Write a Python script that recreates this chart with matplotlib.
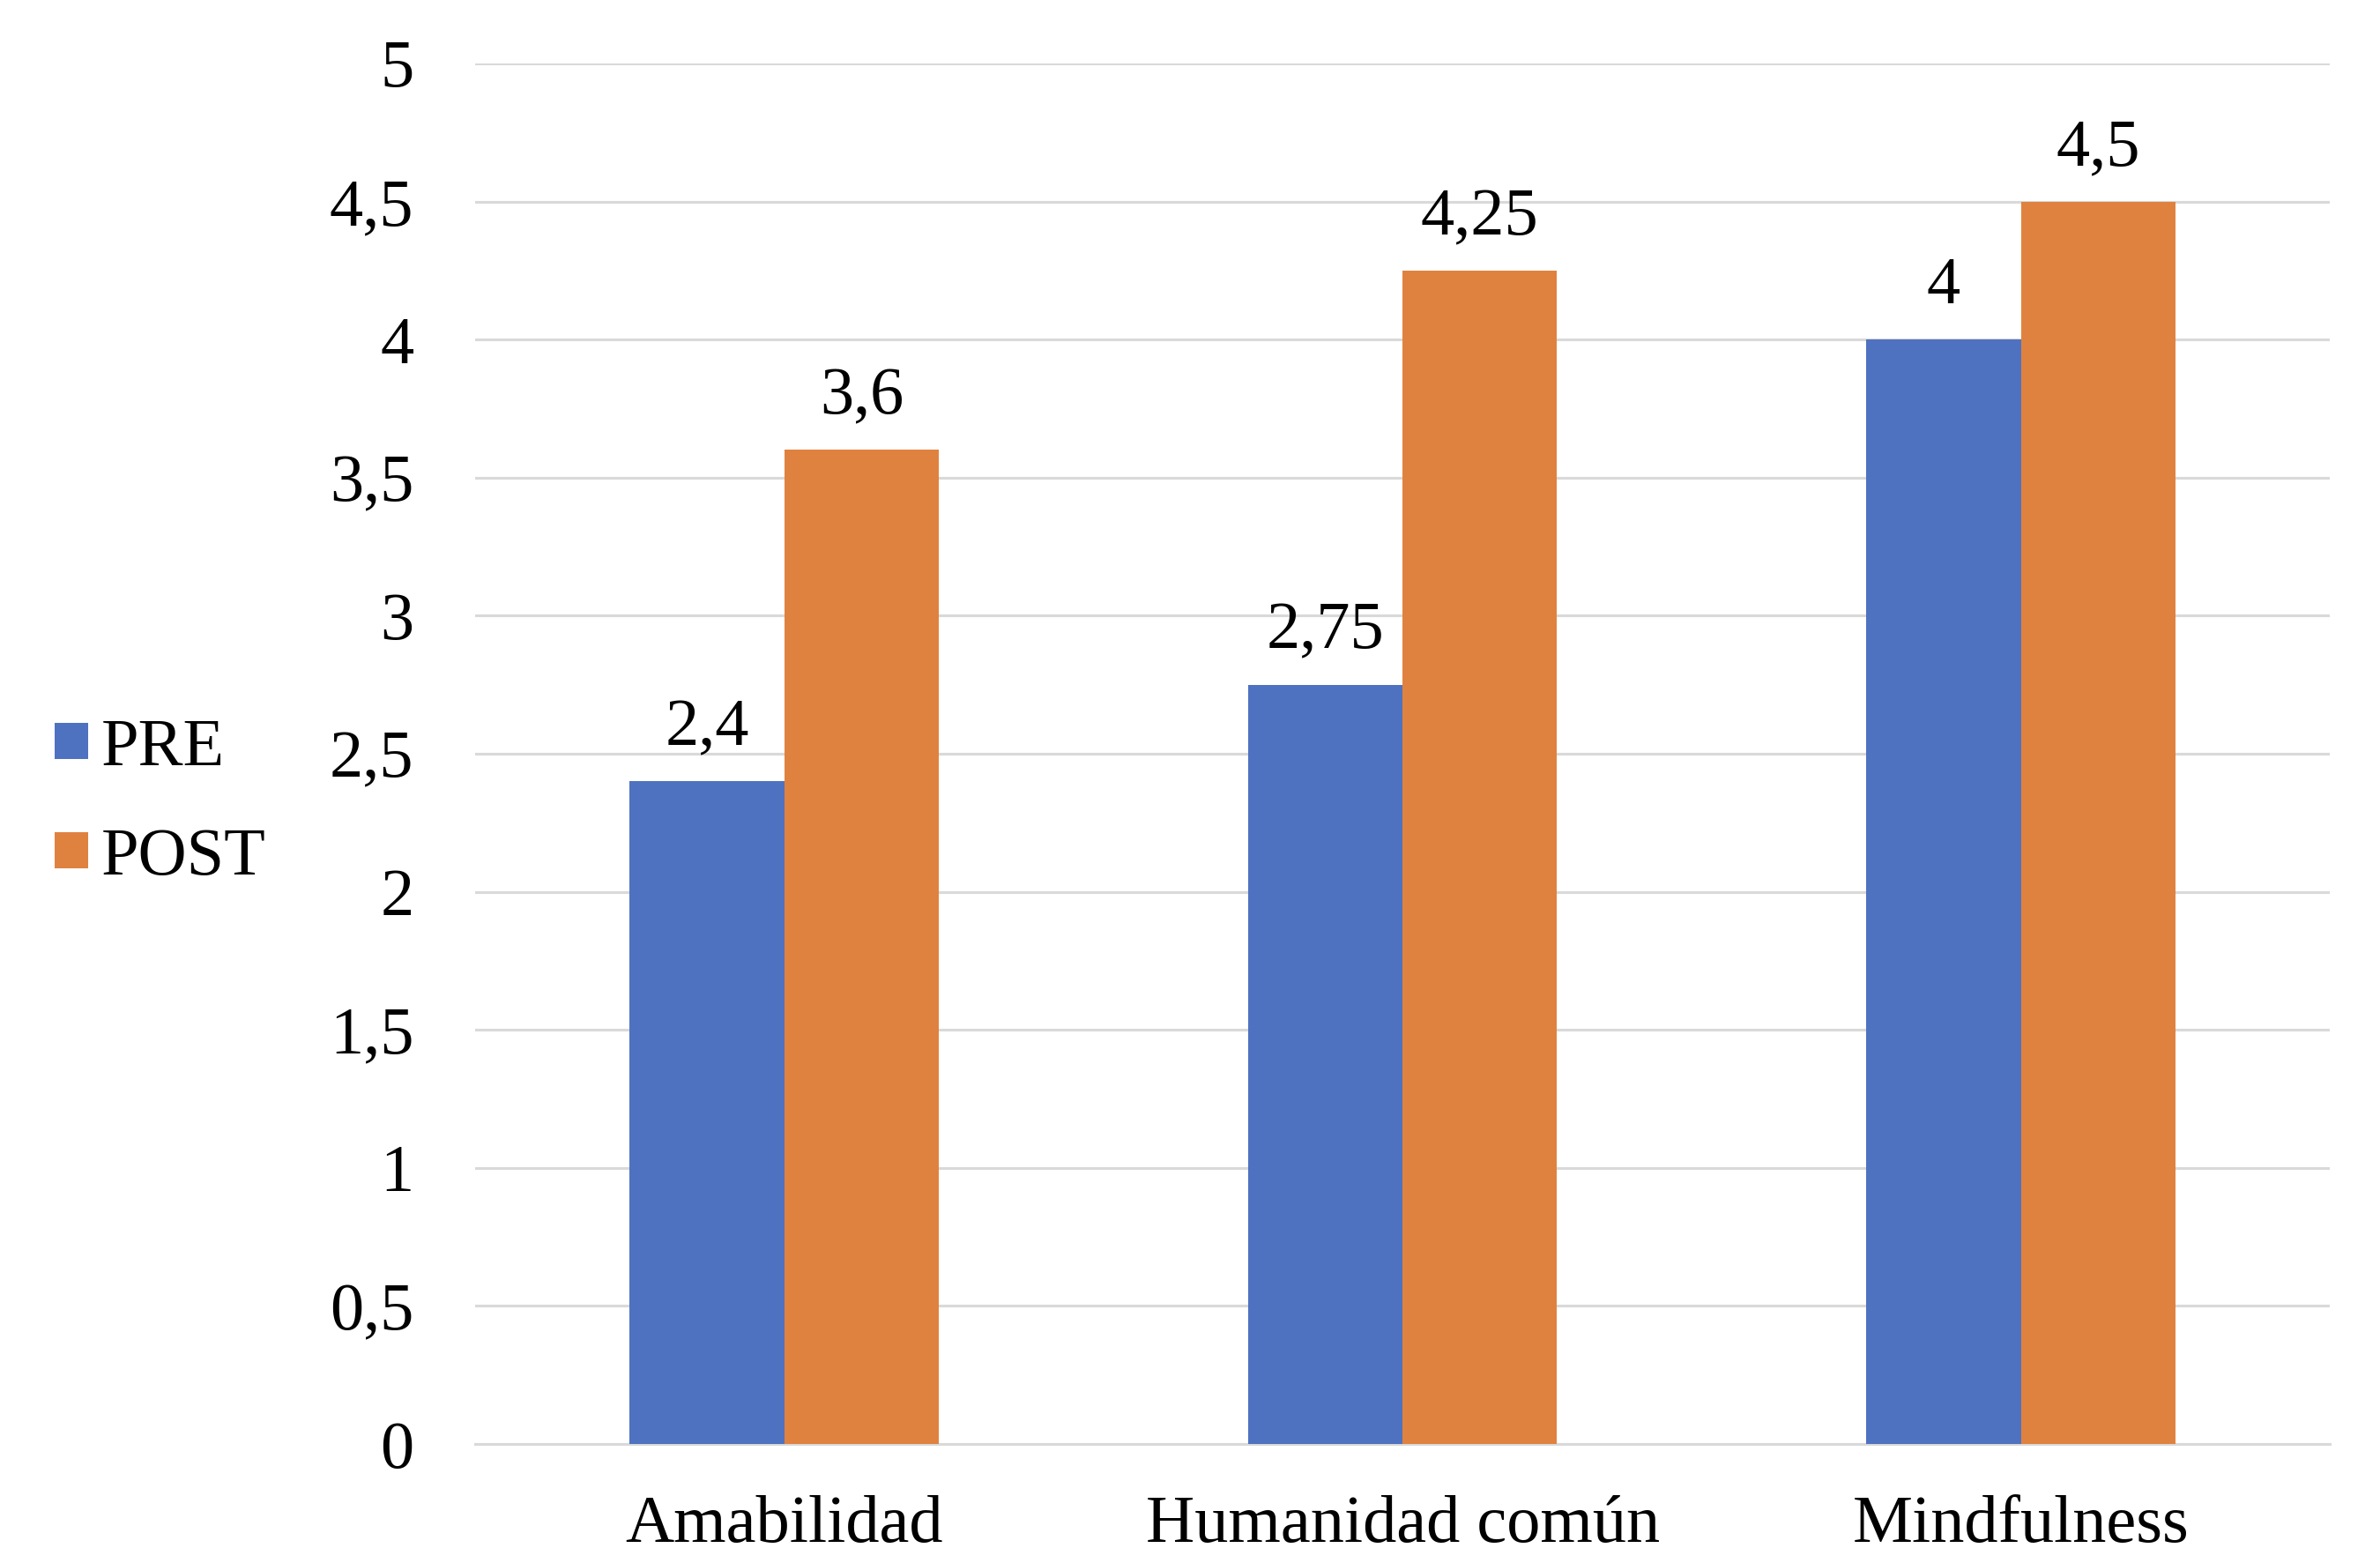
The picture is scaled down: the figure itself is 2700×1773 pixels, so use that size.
import numpy as np
import matplotlib
matplotlib.use("Agg")
import matplotlib.pyplot as plt
from matplotlib.ticker import FuncFormatter

categories = ["Amabilidad", "Humanidad común", "Mindfulness"]
pre = [2.4, 2.75, 4.0]
post = [3.6, 4.25, 4.5]
series_names = ["PRE", "POST"]
yticks = [0, 0.5, 1, 1.5, 2, 2.5, 3, 3.5, 4, 4.5, 5]

blue = "#4f72c0"
orange = "#e0823f"
grid_grey = "#d9d9d9"

plt.rcParams["font.family"] = ["Liberation Serif", "DejaVu Serif"]
fs = 55


def comma(v):
    return ("%g" % v).replace(".", ",")


fig = plt.figure(figsize=(27, 17.73), dpi=100)
ax = fig.add_axes([0.1996, 0.0761, 0.7794, 0.8833])

x = np.arange(len(categories))
w = 0.25
b1 = ax.bar(x - w / 2, pre, w, color=blue, label=series_names[0], zorder=3)
b2 = ax.bar(x + w / 2, post, w, color=orange, label=series_names[1], zorder=3)

for bars, vals in ((b1, pre), (b2, post)):
    for r, v in zip(bars, vals):
        ax.annotate(comma(v), (r.get_x() + r.get_width() / 2, v),
                    xytext=(0, 18), textcoords="offset points",
                    ha="center", va="bottom", fontsize=fs)

ax.set_xlim(-0.5, 2.5)
ax.set_ylim(0, 5)
ax.set_yticks(yticks)
ax.yaxis.set_major_formatter(FuncFormatter(lambda v, p: comma(v)))
ax.set_xticks(x)
ax.set_xticklabels(categories)
ax.tick_params(axis="both", length=0, labelsize=fs)
ax.tick_params(axis="y", pad=50)
ax.tick_params(axis="x", pad=42)

ax.yaxis.grid(True, color=grid_grey, linewidth=2.2, zorder=0)
for s in ("top", "right", "left"):
    ax.spines[s].set_visible(False)
ax.spines["bottom"].set_color(grid_grey)
ax.spines["bottom"].set_linewidth(2.2)

fig.legend(loc="center left", bbox_to_anchor=(0.0115, 0.486), frameon=False,
           fontsize=fs, handlelength=0.5, handleheight=0.45, handletextpad=0.2,
           labelspacing=0.72, borderaxespad=0)

fig.savefig("out.png", dpi=100, facecolor="white")
